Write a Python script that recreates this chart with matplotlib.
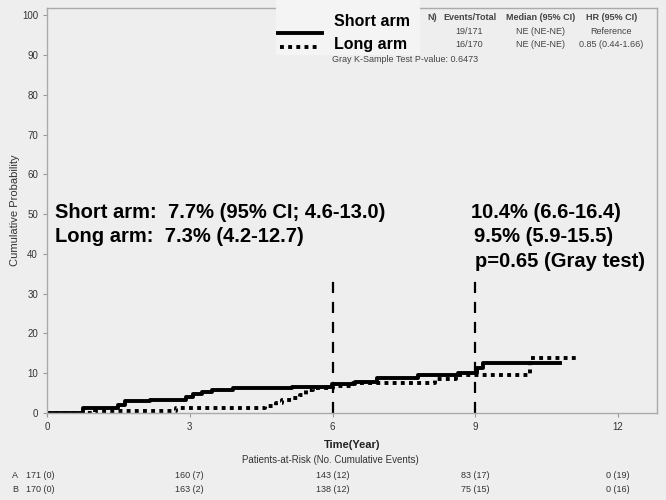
import numpy as np
import matplotlib.pyplot as plt

plt.rcParams['font.family'] = ['Liberation Sans', 'DejaVu Sans']

# cumulative incidence step curves (time in years, percent)
short_t = [0, 0.76, 1.49, 1.64, 2.16, 2.93, 3.07, 3.25, 3.46, 3.91, 5.14, 5.98, 6.47, 6.93, 7.80, 8.64, 9.03, 9.17, 10.78]
short_v = [0, 1.2, 2.0, 2.9, 3.3, 4.1, 4.8, 5.4, 5.8, 6.2, 6.6, 7.4, 7.8, 8.7, 9.5, 10.1, 11.2, 12.5, 12.5]
long_t = [0, 1.00, 2.72, 4.58, 4.82, 4.93, 5.17, 5.31, 5.45, 5.59, 6.00, 6.44, 6.95, 8.15, 8.60, 10.15, 11.16]
long_v = [0, 0.6, 1.2, 1.8, 2.5, 3.3, 3.8, 4.6, 5.8, 6.4, 6.9, 7.5, 7.6, 8.5, 9.5, 13.7, 13.7]

landmarks = [6, 9]
xticks = [0, 3, 6, 9, 12]
yticks = list(range(0, 101, 10))
risk_a = ['171 (0)', '160 (7)', '143 (12)', '83 (17)', '0 (19)']
risk_b = ['170 (0)', '163 (2)', '138 (12)', '75 (15)', '0 (16)']

table_head = ['Events/Total', 'Median (95% CI)', 'HR (95% CI)']
table_rows = [['19/171', 'NE (NE-NE)', 'Reference'],
              ['16/170', 'NE (NE-NE)', '0.85 (0.44-1.66)']]

bg = '#eeeeee'
fig = plt.figure(figsize=(6.66, 5.0), dpi=100, facecolor=bg)
ax = fig.add_axes([0.0706, 0.174, 0.916, 0.81], facecolor=bg)

ax.step(short_t, short_v, where='post', color='black', lw=2.8)
ax.step(long_t, long_v, where='post', color='black', lw=2.8, linestyle=(0, (1, 1.1)))
for lm in landmarks:
    ax.plot([lm, lm], [0, 34], color='black', lw=1.6, linestyle=(0, (5, 4)))

ax.set_xlim(0, 12.82)
ax.set_ylim(0, 101.8)
ax.set_xticks(xticks)
ax.set_yticks(yticks)
ax.tick_params(colors='#999999', labelcolor='#333333', labelsize=7, length=3)
for s in ax.spines.values():
    s.set_color('#aaaaaa')
    s.set_linewidth(1)
ax.set_ylabel('Cumulative Probability', fontsize=8, color='#333333', labelpad=1)
ax.set_xlabel('Time(Year)', fontsize=8, fontweight='bold', color='#222222', labelpad=6)

# overlaid estimates
big = dict(fontsize=14.5, fontweight='bold', color='black', va='center', transform=ax.transAxes)
ax.text(0.013, 0.496, 'Short arm:  7.7% (95% CI; 4.6-13.0)', **big)
ax.text(0.013, 0.437, 'Long arm:  7.3% (4.2-12.7)', **big)
ax.text(0.695, 0.496, '10.4% (6.6-16.4)', **big)
ax.text(0.700, 0.437, '9.5% (5.9-15.5)', **big)
ax.text(0.702, 0.373, 'p=0.65 (Gray test)', **big)

# legend patch
fig.patches.append(plt.Rectangle((0.415, 0.89), 0.215, 0.11, transform=fig.transFigure,
                                 facecolor='#f4f4f4', edgecolor='none'))
fig.lines.append(plt.Line2D([0.418, 0.484], [0.934, 0.934], transform=fig.transFigure,
                            color='black', lw=2.8))
fig.lines.append(plt.Line2D([0.421, 0.481], [0.906, 0.906], transform=fig.transFigure,
                            color='black', lw=2.8, linestyle=(0, (1, 1.1))))
fig.text(0.502, 0.956, 'Short arm', fontsize=11.5, fontweight='bold', va='center')
fig.text(0.502, 0.910, 'Long arm', fontsize=11.5, fontweight='bold', va='center')

small = dict(fontsize=6.5, color='#444444', va='center', ha='center')
fig.text(0.641, 0.964, 'N)', fontsize=6.5, color='#444444', va='center', fontweight='bold')
cols = [0.705, 0.811, 0.918]
for c, h in zip(cols, table_head):
    fig.text(c, 0.964, h, fontweight='bold', **small)
for r, row in enumerate(table_rows):
    for c, val in zip(cols, row):
        fig.text(c, 0.938 - 0.026 * r, val, **small)
fig.text(0.498, 0.882, 'Gray K-Sample Test P-value: 0.6473', fontsize=6.5, color='#444444', va='center')

# patients at risk
fig.text(0.496, 0.080, 'Patients-at-Risk (No. Cumulative Events)', fontsize=7, color='#333333', ha='center', va='center')
fig.text(0.018, 0.050, 'A', fontsize=6.5, color='#333333', va='center')
fig.text(0.018, 0.022, 'B', fontsize=6.5, color='#333333', va='center')
for t, a, b in zip(xticks, risk_a, risk_b):
    xf = ax.transData.transform((t, 0))[0] / fig.bbox.width
    if t == 0:
        xf -= 0.01
    fig.text(xf, 0.050, a, fontsize=6.5, color='#333333', ha='center', va='center')
    fig.text(xf, 0.022, b, fontsize=6.5, color='#333333', ha='center', va='center')

fig.savefig('out.png', dpi=100, facecolor=bg)
